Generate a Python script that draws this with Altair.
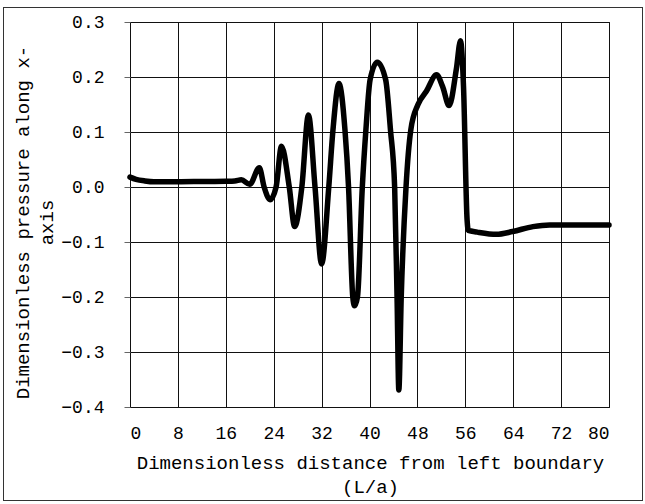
import altair as alt
import pandas as pd

# Dimensionless distance from the left boundary (L/a)
distance = [0, 1, 2.5, 4, 8, 12, 16, 17.5, 18.6, 20.0, 21.6, 22.4, 23.4, 24.4,
            25.3, 26.6, 27.5, 28.7, 29.8, 30.9, 32.0, 33.2, 33.9, 34.9, 35.9,
            36.5, 37.2, 37.5, 38.0, 38.8, 39.4, 40.1, 41.3, 42.7, 43.5, 44.2,
            44.6, 44.9, 45.3, 46.1, 46.9, 48.1, 49.5, 51.2, 52.2, 53.3, 54.5,
            55.2, 55.7, 56.3, 56.5, 58, 61.2, 63.9, 67.3, 70.1, 75, 80]

# Dimensionless pressure along the x-axis
pressure = [0.018, 0.014, 0.011, 0.0095, 0.0095, 0.010, 0.0105, 0.011, 0.013,
            0.005, 0.035, 0.0, -0.023, 0.0, 0.074, 0.0, -0.072, 0.0, 0.131,
            0.0, -0.140, 0.0, 0.104, 0.188, 0.104, 0.0, -0.199, -0.216,
            -0.199, 0.0, 0.104, 0.195, 0.227, 0.195, 0.104, 0.0, -0.2,
            -0.369, -0.2, 0.0, 0.104, 0.150, 0.174, 0.204, 0.183, 0.148,
            0.214, 0.266, 0.183, -0.06, -0.079, -0.082, -0.086, -0.081,
            -0.072, -0.069, -0.069, -0.069]

x_ticks = [0, 8, 16, 24, 32, 40, 48, 56, 64, 72, 80]
y_ticks = [-0.4, -0.3, -0.2, -0.1, 0.0, 0.1, 0.2, 0.3]

df = pd.DataFrame({"distance": distance, "pressure": pressure})

FONT = "Courier New, Liberation Mono, monospace"

line = alt.Chart(df).mark_line(
    color="black", strokeWidth=5.5, interpolate="monotone", strokeJoin="round", strokeCap="round"
).encode(
    x=alt.X(
        "distance:Q",
        scale=alt.Scale(domain=[0, 80], nice=False, zero=False),
        axis=alt.Axis(
            values=x_ticks,
            title=["Dimensionless distance from left boundary", "(L/a)"],
            titleFont=FONT, titleFontSize=19, titleFontWeight="normal",
            titleColor="black", titleLineHeight=24,
            titleX=240, titleY=61, titleAlign="center", titleBaseline="alphabetic",
            titleAnchor="middle",
            labelFont=FONT, labelFontSize=18, labelColor="black",
            labelPadding=17,
            ticks=False, domain=False,
            grid=True, gridColor="#111111", gridWidth=1, gridOpacity=1,
        ),
    ),
    y=alt.Y(
        "pressure:Q",
        scale=alt.Scale(domain=[-0.4, 0.3], nice=False, zero=False),
        axis=alt.Axis(
            values=y_ticks, format=".1f",
            title=["Dimensionless pressure along x-", "axis"],
            titleFont=FONT, titleFontSize=19, titleFontWeight="normal",
            titleColor="black", titleLineHeight=24,
            titleX=-108, titleY=200, titleAlign="center", titleBaseline="middle",
            titleAngle=270,
            labelFont=FONT, labelFontSize=18, labelColor="black",
            labelPadding=20,
            tickSize=6, tickColor="#666666", tickWidth=1,
            domain=False,
            grid=True, gridColor="#111111", gridWidth=1, gridOpacity=1,
        ),
    ),
)

# Thin frame around the whole figure
frame = alt.Chart(df).mark_rect(
    fill=None, stroke="#333333", strokeWidth=1, clip=False
).encode(
    x=alt.value(-126.5), x2=alt.value(512.5),
    y=alt.value(-14.5), y2=alt.value(478.5),
)

chart = alt.layer(frame, line).properties(
    width=479, height=385,
    background="white",
    padding={"left": 130, "top": 22, "right": 36, "bottom": 97},
    autosize=alt.AutoSizeParams(type="none"),
).configure_view(
    stroke="black", strokeWidth=1
)

chart.save("out.html", embed_options={"renderer": "svg", "actions": False})
